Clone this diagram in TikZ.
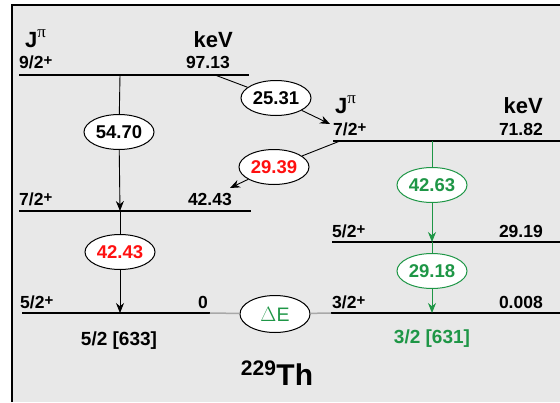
\documentclass[tikz,border=0pt]{standalone}
\usepackage{fontspec}
\setmainfont{Liberation Sans}
\newfontfamily\greekfont{Liberation Serif}
\usetikzlibrary{arrows.meta,shapes.geometric}
\definecolor{panel}{HTML}{E8E8E8}
\definecolor{grn}{HTML}{1E9646}
\definecolor{rd}{HTML}{FF1010}
\definecolor{link}{HTML}{A8A8A8}

% spin-parity heading: bold J with an upright serif pi
\newcommand{\jpi}{J\raisebox{0.42em}{\fontsize{17}{17}\selectfont\greekfont\mdseries π}}
% positive parity sign after a spin value
\newcommand{\parplus}{\raisebox{3pt}{\fontsize{15}{15}\selectfont +}}

\begin{document}
\begin{tikzpicture}[x=1pt,y=-1pt,
  level/.style={line width=2.6pt},
  lbl/.style={font=\fontsize{17.5}{20}\selectfont\bfseries, inner sep=0pt},
  nils/.style={font=\fontsize{19}{21}\selectfont\bfseries, inner sep=0pt},
  head/.style={font=\fontsize{22}{24}\selectfont\bfseries, inner sep=0pt},
  gam/.style={ellipse, draw, fill=white, line width=1pt, minimum width=70pt,
              minimum height=35pt, inner sep=0pt, font=\fontsize{18.5}{20}\selectfont\bfseries},
  tr/.style={line width=0.9pt},
  tra/.style={tr, -{Stealth[length=10pt,width=8pt]}},
]
\useasboundingbox (0,0) rectangle (560,402);
% panel with black left and top edges
\fill[panel] (12,5) rectangle (560,402);
\draw[line width=2pt] (12,402) -- (12,5) -- (560,5);

% energy levels
\draw[level] (19,75) -- (249,75);
\draw[level] (333,141) -- (560,141);
\draw[level] (19,211) -- (251,211);
\draw[level] (22,313) -- (210,313);
\draw[level] (332,242) -- (560,242);
\draw[level] (331,313) -- (560,313);

% transition end points on the levels
\coordinate (a97) at (120,75);
\coordinate (b97) at (215,75);
\coordinate (a71) at (330,124);
\coordinate (b71) at (340,141);
\coordinate (c71) at (432,141);
\coordinate (a42) at (230,188);
\coordinate (b42) at (120,211);
\coordinate (a29) at (432,242);
\coordinate (g0)  at (120,313);
\coordinate (g8)  at (432,313);
\coordinate (gl)  at (210,313);
\coordinate (gr)  at (331,313);

% gamma transitions
\node[gam] (t5470) at (119,132) {54.70};
\node[gam] (t2531) at (276,98) {25.31};
\node[gam, text=rd] (t2939) at (274,167) {29.39};
\node[gam, text=rd] (t4243) at (120,252) {42.43};
\node[gam, draw=grn, text=grn] (t4263) at (432,185) {42.63};
\node[gam, draw=grn, text=grn] (t2918) at (432,271) {29.18};
\node[gam, text=grn, minimum height=37pt, font=\fontsize{19.5}{21}\selectfont] (dE) at (275,314) {$\Delta$E};

\draw[tr] (a97) -- (t5470);
\draw[tra] (t5470) -- (b42);
\draw[tr] (b97) -- (t2531);
\draw[tra] (t2531) -- (a71);
\draw[tr] (b71) -- (t2939);
\draw[tra] (t2939) -- (a42);
\draw[tr] (b42) -- (t4243);
\draw[tra] (t4243) -- (g0);
\draw[tr, grn] (c71) -- (t4263);
\draw[tra, grn] (t4263) -- (a29);
\draw[tr, grn] (a29) -- (t2918);
\draw[tra, grn] (t2918) -- (g8);
\draw[link, line width=1.5pt] (gl) -- (dE);
\draw[link, line width=1.5pt] (dE) -- (gr);

% headings
\node[head, anchor=base west] (jl) at (25,47) {\jpi};
\node[head, anchor=base east] (kl) at (233,47) {keV};
\node[head, anchor=base west] (jr) at (335,113) {\jpi};
\node[head, anchor=base east] (kr) at (543,113) {keV};

% level labels
\node[lbl, anchor=base west] (s1) at (19,68) {9/2\parplus};
\node[lbl, anchor=base east] (e1) at (230,68) {97.13};
\node[lbl, anchor=base west] (s2) at (333,135) {7/2\parplus};
\node[lbl, anchor=base east] (e2) at (543,135) {71.82};
\node[lbl, anchor=base west] (s3) at (19,205) {7/2\parplus};
\node[lbl, anchor=base east] (e3) at (232,205) {42.43};
\node[lbl, anchor=base west] (s4) at (20,308) {5/2\parplus};
\node[lbl, anchor=base east] (e4) at (208,308) {0};
\node[lbl, anchor=base west] (s5) at (332,237) {5/2\parplus};
\node[lbl, anchor=base east] (e5) at (543,237) {29.19};
\node[lbl, anchor=base west] (s6) at (332,308) {3/2\parplus};
\node[lbl, anchor=base east] (e6) at (543,308) {0.008};

% Nilsson labels and nucleus
\node[nils, anchor=base] (n1) at (119,345) {5/2 [633]};
\node[nils, anchor=base, text=grn] (n2) at (432,343) {3/2 [631]};
\node[inner sep=0pt, anchor=base, font=\fontsize{30}{32}\selectfont\bfseries] (nuc) at (277,385) {\textsuperscript{229}Th};
\end{tikzpicture}
\end{document}
